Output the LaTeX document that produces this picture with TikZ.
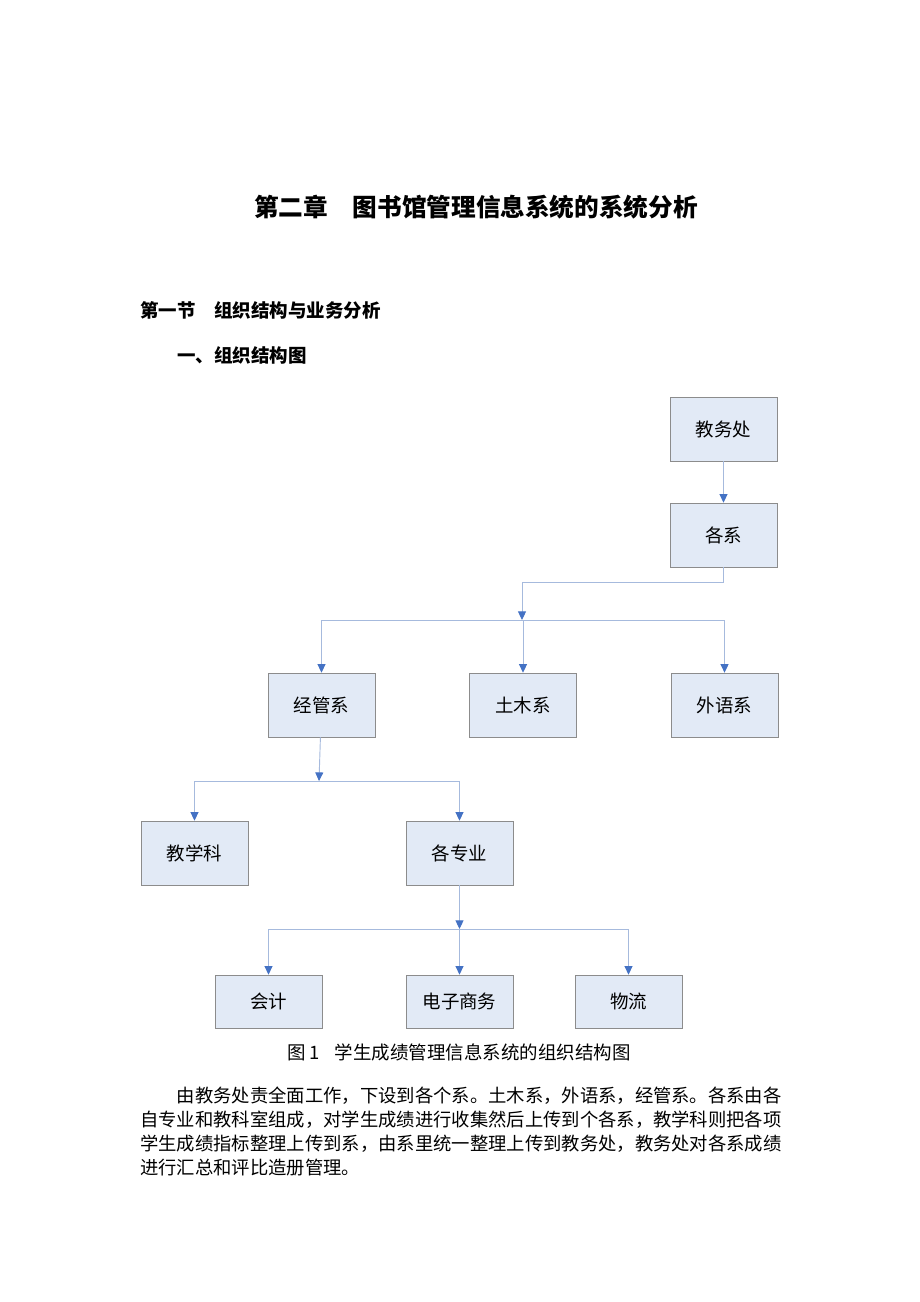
\documentclass[tikz,border=0pt]{standalone}
\usepackage{fontspec}
\setmainfont{Noto Sans CJK SC}
\usepackage{tikz}
\usetikzlibrary{arrows.meta,positioning}
\definecolor{boxfill}{HTML}{E2EAF6}
\definecolor{boxline}{HTML}{8C8C8C}
\definecolor{linkline}{HTML}{A6BADD}
\definecolor{tipblue}{HTML}{4472C4}

\begin{document}
\begin{tikzpicture}[x=0.022826cm,y=-0.022826cm,node distance=2.146cm,
	unitbox/.style={draw=boxline,fill=boxfill,minimum width=2.44cm,minimum height=1.46cm,inner sep=0pt,font=\fontsize{12}{14}\selectfont},
	leafbox/.style={unitbox,minimum height=1.21cm},
	conn/.style={draw=linkline,line width=0.6pt},
	flow/.style={conn,-{Triangle[width=5.2pt,length=5.6pt,color=tipblue]}}]
	\useasboundingbox (0,0) rectangle (920,1302);
	
	% headings
	\node[font=\fontsize{16}{19}\selectfont\bfseries] (title) at (476,207) {第二章\hspace{1em}图书馆管理信息系统的系统分析};
	\node[anchor=west,inner sep=0pt,font=\fontsize{12}{14}\selectfont\bfseries] (sec) at (140,310) {第一节\hspace{1em}组织结构与业务分析};
	\node[anchor=west,inner sep=0pt,font=\fontsize{12}{14}\selectfont\bfseries] (subsec) at (177,355) {一、组织结构图};
	
	% boxes
	\node[unitbox] (jwc) at (723.5,429) {教务处};
	\node[unitbox] (gx) at (723.5,535) {各系};
	\node[unitbox] (jg) at (321.5,705) {经管系};
	\node[unitbox, right = of jg] (tm) {土木系};
	\node[unitbox, right = of tm] (wy) {外语系};
	\node[unitbox] (jxk) at (194.5,853) {教学科};
	\node[unitbox] (gzy) at (459.5,853) {各专业};
	\node[leafbox] (kj) at (268.5,1001.5) {会计};
	\node[leafbox] (dzsw) at (459.5,1001.5) {电子商务};
	\node[leafbox] (wl) at (628.5,1001.5) {物流};
	
	\coordinate (hub1) at (522,620);
	\coordinate (hub2) at (319,781);
	\coordinate (hub3) at (459.5,929);
	
	% connectors
	\draw[flow] (jwc) -- (gx);
	\draw[flow] (gx.south) -- ++(0,15) -| (hub1);
	\draw[conn] (hub1 -| jg) -- (hub1 -| wy);
	\draw[flow] (hub1 -| jg) -- (jg);
	\draw[flow] (hub1 -| tm) -- (tm);
	\draw[flow] (hub1 -| wy) -- (wy);
	\draw[flow] (jg) -- (hub2);
	\draw[conn] (hub2 -| jxk) -- (hub2 -| gzy);
	\draw[flow] (hub2 -| jxk) -- (jxk);
	\draw[flow] (hub2 -| gzy) -- (gzy);
	\draw[flow] (gzy) -- (hub3);
	\draw[conn] (hub3 -| kj) -- (hub3 -| wl);
	\draw[flow] (hub3 -| kj) -- (kj);
	\draw[flow] (hub3 -| dzsw) -- (dzsw);
	\draw[flow] (hub3 -| wl) -- (wl);
	
	% caption and text
	\node[anchor=west,inner sep=0pt,font=\fontsize{12}{14}\selectfont] (cap) at (287,1052) {图 1\hspace{0.8em}学生成绩管理信息系统的组织结构图};
	\node[anchor=north west,inner sep=0pt,align=left,font=\fontsize{11.9}{15.4}\selectfont] (para) at (140,1087) {\hspace*{2em}由教务处责全面工作，下设到各个系。土木系，外语系，经管系。各系由各\\自专业和教科室组成，对学生成绩进行收集然后上传到个各系，教学科则把各项\\学生成绩指标整理上传到系，由系里统一整理上传到教务处，教务处对各系成绩\\进行汇总和评比造册管理。};
\end{tikzpicture}
\end{document}
